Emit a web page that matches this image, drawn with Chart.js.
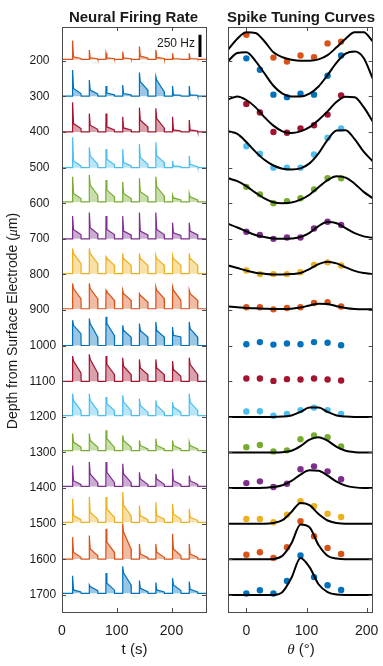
<!DOCTYPE html>
<html>
<head>
<meta charset="utf-8">
<script src="https://cdn.jsdelivr.net/npm/chart.js@4.4.0/dist/chart.umd.min.js"></script>
<style>
  html, body { margin: 0; padding: 0; background: #fff; overflow: hidden; }
  #wrap { position: relative; width: 383px; height: 666px; overflow: hidden; }
  canvas { position: absolute; left: 0; top: 0; }
</style>
</head>
<body>
<div id="wrap">
  <canvas id="rateChart" width="400" height="666" style="width:400px;height:666px"></canvas>
  <canvas id="tuneChart" width="400" height="666" style="width:400px;height:666px"></canvas>
</div>
<script>
// ---- data ----
const depths = [200, 300, 400, 500, 600, 700, 800, 900, 1000, 1100, 1200, 1300, 1400, 1500, 1600, 1700];
const timeTicks = [0, 100, 200];
const thetaTicks = [0, 100, 200];

// MATLAB colour order, top row first
const rowColors = ['#D95319', '#0072BD', '#A2142F', '#4DBEEE', '#77AC30', '#7E2F8E', '#EDB120', '#D95319',
                   '#0072BD', '#A2142F', '#4DBEEE', '#77AC30', '#7E2F8E', '#EDB120', '#D95319', '#0072BD'];

// stimulus blocks (s)
const stimOnsets = [19, 49.5, 80, 110.5, 141, 171, 201.5, 232];
const stimDuration = 16;

// firing rate (Hz): resting level, onset transient peak, level just after onset, level at block end
const baseHz = [16, 3, 1, 0, 15, 0, 9, 15, 2, 0, 15, 22, 19, 15, 3, 18];
const peakHz = [
  [212, 106, 68, 87, 144, 106, 68, 68],
  [295, 182, 114, 125, 265, 220, 114, 114],
  [333, 208, 208, 170, 273, 265, 170, 133],
  [341, 227, 208, 208, 265, 284, 76, 133],
  [284, 303, 246, 227, 265, 284, 76, 95],
  [257, 295, 257, 257, 295, 295, 182, 182],
  [284, 284, 190, 227, 227, 208, 208, 227],
  [284, 284, 208, 208, 170, 246, 246, 208],
  [284, 303, 322, 227, 246, 265, 208, 265],
  [284, 303, 284, 265, 246, 246, 227, 265],
  [246, 246, 208, 227, 190, 170, 151, 246],
  [190, 190, 227, 170, 114, 133, 114, 95],
  [235, 273, 273, 254, 159, 140, 197, 121],
  [265, 284, 284, 341, 190, 227, 208, 151],
  [246, 265, 341, 398, 170, 170, 284, 170],
  [197, 95, 227, 303, 144, 121, 170, 133]
];
const onsetHz = [
  [30, 17, 17, 17, 38, 23, 10, 10],
  [87, 68, 34, 30, 162, 182, 15, 15],
  [94, 76, 57, 45, 133, 151, 23, 23],
  [76, 133, 94, 57, 114, 133, 19, 38],
  [95, 190, 133, 95, 114, 170, 45, 57],
  [106, 125, 106, 87, 87, 106, 68, 87],
  [227, 227, 170, 170, 170, 170, 170, 170],
  [227, 227, 190, 170, 151, 208, 208, 170],
  [227, 246, 246, 170, 170, 170, 114, 190],
  [227, 246, 190, 170, 151, 151, 133, 190],
  [170, 170, 133, 151, 114, 114, 95, 151],
  [95, 114, 133, 114, 57, 57, 57, 57],
  [64, 140, 159, 140, 83, 83, 64, 64],
  [76, 114, 151, 190, 76, 76, 95, 57],
  [76, 114, 190, 303, 57, 76, 114, 57],
  [38, 76, 114, 227, 57, 38, 95, 45]
];
const offsetHz = [
  [10, 8, 8, 8, 15, 10, 5, 5],
  [30, 25, 15, 15, 68, 50, 10, 10],
  [38, 30, 23, 23, 57, 45, 11, 11],
  [19, 38, 34, 23, 38, 57, 11, 11],
  [38, 76, 57, 38, 57, 68, 23, 23],
  [49, 57, 49, 45, 45, 49, 38, 45],
  [114, 114, 95, 95, 95, 95, 95, 95],
  [114, 114, 95, 95, 76, 114, 95, 95],
  [133, 95, 114, 95, 95, 95, 95, 95],
  [95, 95, 76, 76, 76, 76, 57, 76],
  [57, 57, 57, 57, 38, 38, 38, 57],
  [38, 38, 38, 38, 19, 19, 19, 19],
  [23, 45, 45, 45, 23, 23, 23, 23],
  [30, 38, 57, 76, 30, 38, 38, 23],
  [19, 38, 76, 114, 19, 19, 38, 19],
  [15, 30, 38, 95, 19, 15, 30, 15]
];

// tuning: mean response per orientation (in row spacings above the row's depth)
const tuneTheta = [0, 22.5, 45, 67.5, 90, 112.5, 135, 157.5];
const tuneDots = [
  [0.73, null, 0.09, -0.02, 0.15, 0.10, 0.49, 0.54],   // 22.5 deg is off the top
  [1.07, 0.75, 0.05, -0.02, 0.08, 0.05, 0.58, 1.15],
  [0.79, 0.55, 0.00, -0.02, 0.10, 0.19, 0.49, 1.03],
  [0.60, 0.39, 0.00, 0.00, 0.00, 0.37, 0.84, 1.10],
  [0.46, 0.25, 0.00, 0.06, 0.14, 0.39, 0.70, 0.70],
  [0.20, 0.11, 0.00, 0.04, 0.04, 0.29, 0.48, 0.39],
  [0.11, 0.01, 0.01, 0.01, 0.06, 0.27, 0.34, 0.25],
  [0.08, 0.08, 0.02, 0.06, 0.08, 0.20, 0.22, 0.10],
  [0.04, 0.10, 0.03, 0.06, 0.04, 0.10, 0.08, 0.01],
  [0.08, 0.08, 0.01, 0.06, 0.05, 0.08, 0.05, 0.02],
  [0.15, 0.16, 0.03, 0.08, 0.19, 0.26, 0.19, 0.08],
  [0.15, 0.21, 0.03, 0.06, 0.37, 0.48, 0.43, 0.17],
  [0.14, 0.19, 0.03, 0.12, 0.53, 0.61, 0.47, 0.25],
  [0.13, 0.13, 0.04, 0.25, 0.63, 0.49, 0.28, 0.19],
  [0.13, 0.20, 0.04, 0.34, 1.07, 0.65, 0.32, 0.15],
  [0.04, 0.13, 0.04, 0.39, 1.11, 0.50, 0.27, 0.14]
];
// fitted curves sampled off the figure (no fit for 1000 and 1100)
const curveTheta = [-30, -15, 0, 15, 30, 45, 60, 75, 90, 105, 120, 135, 150, 165, 180, 195, 210];
const curveFits = [
  [0.32, 0.62, 0.80, 0.78, 0.55, 0.24, 0.10, 0.03, 0.00, 0.00, 0.04, 0.16, 0.38, 0.62, 0.80, 0.80, 0.55],
  [1.00, 1.22, 1.24, 1.00, 0.65, 0.30, 0.08, 0.00, 0.00, 0.08, 0.28, 0.60, 0.95, 1.20, 1.26, 1.08, 0.50],
  [0.92, 1.00, 0.90, 0.70, 0.42, 0.18, 0.02, -0.03, 0.02, 0.14, 0.34, 0.58, 0.85, 0.99, 0.98, 0.70, 0.30],
  [1.02, 0.95, 0.72, 0.45, 0.22, 0.06, -0.03, -0.05, -0.02, 0.12, 0.40, 0.78, 1.04, 1.05, 0.80, 0.45, 0.18],
  [0.70, 0.62, 0.48, 0.30, 0.14, 0.03, 0.00, 0.02, 0.10, 0.24, 0.45, 0.65, 0.76, 0.72, 0.55, 0.32, 0.14],
  [0.42, 0.32, 0.21, 0.11, 0.05, 0.01, 0.00, 0.01, 0.05, 0.17, 0.36, 0.47, 0.44, 0.30, 0.16, 0.07, 0.03],
  [0.25, 0.18, 0.11, 0.05, 0.02, 0.00, 0.00, 0.01, 0.04, 0.15, 0.29, 0.36, 0.31, 0.20, 0.10, 0.04, 0.01],
  [0.10, 0.08, 0.06, 0.05, 0.04, 0.03, 0.03, 0.04, 0.07, 0.13, 0.18, 0.17, 0.11, 0.06, 0.03, 0.02, 0.02],
  null,
  null,
  [0, 0, 0, 0, 0, 0, 0.01, 0.04, 0.14, 0.26, 0.26, 0.14, 0.04, 0.01, 0, 0, 0],
  [0, 0, 0, 0, 0, 0, 0.01, 0.05, 0.18, 0.36, 0.43, 0.33, 0.16, 0.05, 0.01, 0, 0],
  [0, 0, 0, 0, 0.01, 0.03, 0.08, 0.20, 0.38, 0.50, 0.49, 0.35, 0.18, 0.07, 0.02, 0, 0],
  [0, 0, 0, 0, 0, 0.02, 0.10, 0.33, 0.58, 0.52, 0.27, 0.09, 0.02, 0, 0, 0, 0],
  [0, 0, 0, 0, 0, 0.01, 0.10, 0.45, 0.98, 0.90, 0.40, 0.10, 0.02, 0, 0, 0, 0],
  [0, 0, 0, 0, 0, 0, 0.08, 0.48, 1.04, 0.78, 0.30, 0.08, 0.01, 0, 0, 0, 0]
];

// scale bar
const scaleBarHz = 250;
const scaleBarT = 252;
const scaleBarTop = 127;

// ---- drawing ----
const depthMin = 105, depthMax = 1748;
const tMax = 263;
const hzToDepth = 0.25;   // depth units per Hz
const rowUnit = 100;      // depth units per tuning unit
const axisColor = '#4a4a4a';
const textColor = '#1a1a1a';
const sans = '"Liberation Sans", Arial, sans-serif';
const serif = '"Liberation Serif", "Times New Roman", serif';
Chart.defaults.font.family = sans;

function traceData(r) {
  const y = hz => depths[r] - (baseHz[r] + hz) * hzToDepth;
  const pts = [{ x: 0, y: y(0) }];
  stimOnsets.forEach((t0, i) => {
    pts.push({ x: t0, y: y(0) });
    pts.push({ x: t0 + 0.4, y: y(peakHz[r][i]) });
    pts.push({ x: t0 + 2, y: y(onsetHz[r][i]) });
    pts.push({ x: t0 + stimDuration - 0.4, y: y(offsetHz[r][i]) });
    pts.push({ x: t0 + stimDuration, y: y(0) });
  });
  pts.push({ x: tMax, y: y(0) });
  return pts;
}

// draw text made of differently styled parts, centred on (x, y)
function drawParts(ctx, t) {
  ctx.save();
  ctx.translate(t.x, t.y);
  if (t.rotate) ctx.rotate(t.rotate);
  ctx.textBaseline = t.baseline || 'alphabetic';
  ctx.textAlign = 'left';
  let total = 0;
  t.parts.forEach(p => { ctx.font = p.font; total += ctx.measureText(p.text).width; });
  let x = t.align === 'right' ? -total : -total / 2;
  t.parts.forEach(p => {
    ctx.font = p.font;
    ctx.fillStyle = textColor;
    ctx.fillText(p.text, x, 0);
    x += ctx.measureText(p.text).width;
  });
  ctx.restore();
}

const decor = {
  id: 'decor',
  afterDraw(chart, args, o) {
    const { ctx, chartArea: a } = chart;
    const xs = chart.scales.x, ys = chart.scales.y;
    const tl = 4;
    ctx.save();
    ctx.strokeStyle = axisColor;
    ctx.lineWidth = 1;
    ctx.beginPath();
    o.xTicks.forEach(v => {
      const px = Math.round(xs.getPixelForValue(v)) + 0.5;
      ctx.moveTo(px, a.bottom); ctx.lineTo(px, a.bottom - tl);
      ctx.moveTo(px, a.top); ctx.lineTo(px, a.top + tl);
    });
    depths.forEach(v => {
      const py = Math.round(ys.getPixelForValue(v)) + 0.5;
      ctx.moveTo(a.left, py); ctx.lineTo(a.left + tl, py);
      ctx.moveTo(a.right, py); ctx.lineTo(a.right - tl, py);
    });
    ctx.stroke();
    ctx.strokeRect(Math.round(a.left) + 0.5, Math.round(a.top) + 0.5,
                   Math.round(a.right - a.left), Math.round(a.bottom - a.top));
    o.texts(chart).forEach(t => drawParts(ctx, t));
    ctx.restore();
  }
};

function xAxis(min, max, ticks) {
  return {
    type: 'linear', min: min, max: max,
    grid: { display: false }, border: { display: false },
    ticks: { font: { size: 14 }, color: textColor, padding: 3, callback: v => String(v) },
    afterBuildTicks: s => { s.ticks = ticks.map(v => ({ value: v })); },
    afterFit: s => { s.height = 54; }
  };
}

// left panel: firing rate traces, shaded down to the resting level
const rateSets = depths.map((d, r) => ({
  data: traceData(r),
  showLine: true,
  borderColor: rowColors[r],
  borderWidth: 1.2,
  backgroundColor: rowColors[r] + '66',
  fill: { value: d - baseHz[r] * hzToDepth },
  pointRadius: 0
}));
rateSets.push({
  data: [{ x: scaleBarT, y: scaleBarTop }, { x: scaleBarT, y: scaleBarTop + scaleBarHz * hzToDepth }],
  showLine: true,
  borderColor: '#000',
  borderWidth: 3,
  pointRadius: 0
});

new Chart(document.getElementById('rateChart'), {
  type: 'scatter',
  data: { datasets: rateSets },
  options: {
    responsive: false,
    animation: false,
    layout: { padding: { left: 29.5, top: 27, right: 194, bottom: 0 } },
    plugins: {
      legend: { display: false },
      tooltip: { enabled: false },
      filler: { propagate: false },
      decor: {
        xTicks: timeTicks,
        texts: chart => {
          const xs = chart.scales.x, ys = chart.scales.y;
          return [
            { x: 133.5, y: 22, parts: [{ text: 'Neural Firing Rate', font: 'bold 15px ' + sans }] },
            { x: 134.5, y: 654, parts: [{ text: 't (s)', font: '15px ' + sans }] },
            { x: 16.7, y: 321, rotate: -Math.PI / 2, parts: [
              { text: 'Depth from Surface Electrode (', font: '14px ' + sans },
              { text: 'μ', font: 'italic 14px ' + serif },
              { text: 'm)', font: '14px ' + sans }] },
            { x: xs.getPixelForValue(scaleBarT) - 5,
              y: ys.getPixelForValue(scaleBarTop + scaleBarHz * hzToDepth / 2) - 2,
              align: 'right', baseline: 'middle',
              parts: [{ text: scaleBarHz + ' Hz', font: '12px ' + sans }] }
          ];
        }
      }
    },
    scales: {
      x: xAxis(0, tMax, timeTicks),
      y: {
        type: 'linear', reverse: true, min: depthMin, max: depthMax,
        grid: { display: false }, border: { display: false },
        ticks: { crossAlign: 'far', font: { size: 12 }, color: textColor, padding: 0, callback: v => String(v) },
        afterBuildTicks: s => { s.ticks = depths.map(v => ({ value: v })); },
        afterFit: s => { s.width = 32.5; }
      }
    }
  },
  plugins: [decor]
});

// right panel: tuning curves
const tuneSets = [];
depths.forEach((d, r) => {
  tuneSets.push({
    data: tuneTheta.map((th, i) => tuneDots[r][i] === null ? null : { x: th, y: d - tuneDots[r][i] * rowUnit })
                   .filter(p => p !== null),
    pointRadius: 3.2,
    pointBackgroundColor: rowColors[r],
    pointBorderWidth: 0,
    order: 1
  });
  if (curveFits[r]) {
    tuneSets.push({
      data: curveTheta.map((th, i) => ({ x: th, y: d - curveFits[r][i] * rowUnit })),
      showLine: true,
      borderColor: '#000',
      borderWidth: 2,
      pointRadius: 0,
      cubicInterpolationMode: 'monotone',
      order: 0
    });
  }
});

new Chart(document.getElementById('tuneChart'), {
  type: 'scatter',
  data: { datasets: tuneSets },
  options: {
    responsive: false,
    animation: false,
    layout: { padding: { left: 228.3, top: 27, right: 27.3, bottom: 0 } },
    plugins: {
      legend: { display: false },
      tooltip: { enabled: false },
      decor: {
        xTicks: thetaTicks,
        texts: () => [
          { x: 301, y: 22, parts: [{ text: 'Spike Tuning Curves', font: 'bold 15px ' + sans }] },
          { x: 301, y: 654, parts: [
            { text: 'θ', font: 'italic 15px ' + serif },
            { text: ' (°)', font: '15px ' + sans }] }
        ]
      }
    },
    scales: {
      x: xAxis(-30, 210, thetaTicks),
      y: { type: 'linear', reverse: true, min: depthMin, max: depthMax, display: false }
    }
  },
  plugins: [decor]
});
</script>
</body>
</html>
